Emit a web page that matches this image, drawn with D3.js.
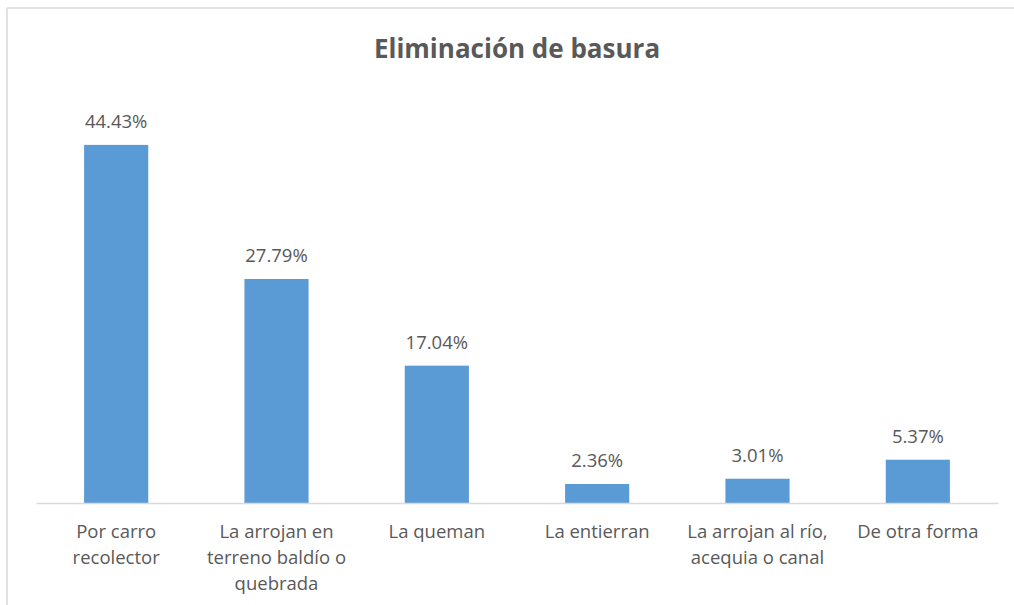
<!DOCTYPE html>
<html><head><meta charset="utf-8">
<script src="https://cdn.jsdelivr.net/npm/d3@7"></script>
<style>body{margin:0;background:#fff}svg{display:block}</style>
</head><body>
<script>
const categories = ["Por carro\nrecolector", "La arrojan en\nterreno baldío o\nquebrada", "La queman", "La entierran", "La arrojan al río,\nacequia o canal", "De otra forma"];
const values = [44.43, 27.79, 17.04, 2.36, 3.01, 5.37];
const valueLabels = ["44.43%", "27.79%", "17.04%", "2.36%", "3.01%", "5.37%"];
const title = "Eliminación de basura";

const W = 1014, H = 605;
const svg = d3.select("body").append("svg").attr("width", W).attr("height", H);
const font = "'Open Sans', 'Noto Sans', sans-serif";
const textColor = "#595959";

// chart border (left and top visible)
svg.append("line").attr("x1", 7).attr("x2", 7).attr("y1", 8).attr("y2", H).attr("stroke", "#d9d9d9").attr("stroke-width", 1.5);
svg.append("line").attr("x1", 7).attr("x2", W).attr("y1", 8).attr("y2", 8).attr("stroke", "#d9d9d9").attr("stroke-width", 1.5);

const x = d3.scaleBand().domain(d3.range(categories.length)).range([36, 998]).paddingInner(0.6).paddingOuter(0.3);
const y = d3.scaleLinear().domain([0, 50]).range([503, 100]);

svg.append("text").attr("x", 517).attr("y", 58).attr("text-anchor", "middle")
  .attr("font-family", font).attr("font-weight", "bold").attr("font-size", 26).attr("fill", textColor).text(title);

svg.selectAll("rect.bar").data(values).join("rect").attr("class", "bar")
  .attr("x", (d, i) => x(i)).attr("width", x.bandwidth())
  .attr("y", d => y(d)).attr("height", d => y(0) - y(d)).attr("fill", "#5B9BD5");

svg.selectAll("text.val").data(values).join("text").attr("class", "val")
  .attr("x", (d, i) => x(i) + x.bandwidth() / 2).attr("y", d => y(d) - 17)
  .attr("text-anchor", "middle").attr("font-family", font).attr("font-size", 18.5).attr("fill", textColor)
  .text((d, i) => valueLabels[i]);

const axis = d3.axisBottom(x).tickSize(0).tickFormat("");
const ag = svg.append("g").attr("transform", `translate(0,${y(0)})`).call(axis);
ag.select(".domain").attr("stroke", "#d9d9d9").attr("stroke-width", 1.5);

const lab = svg.selectAll("text.cat").data(categories).join("text").attr("class", "cat")
  .attr("text-anchor", "middle").attr("font-family", font).attr("font-size", 18.5).attr("fill", textColor);
lab.each(function(d, i) {
  const t = d3.select(this);
  d.split("\n").forEach((line, j) => {
    t.append("tspan").attr("x", x(i) + x.bandwidth() / 2).attr("y", 538 + j * 26).text(line);
  });
});
</script>
</body></html>
